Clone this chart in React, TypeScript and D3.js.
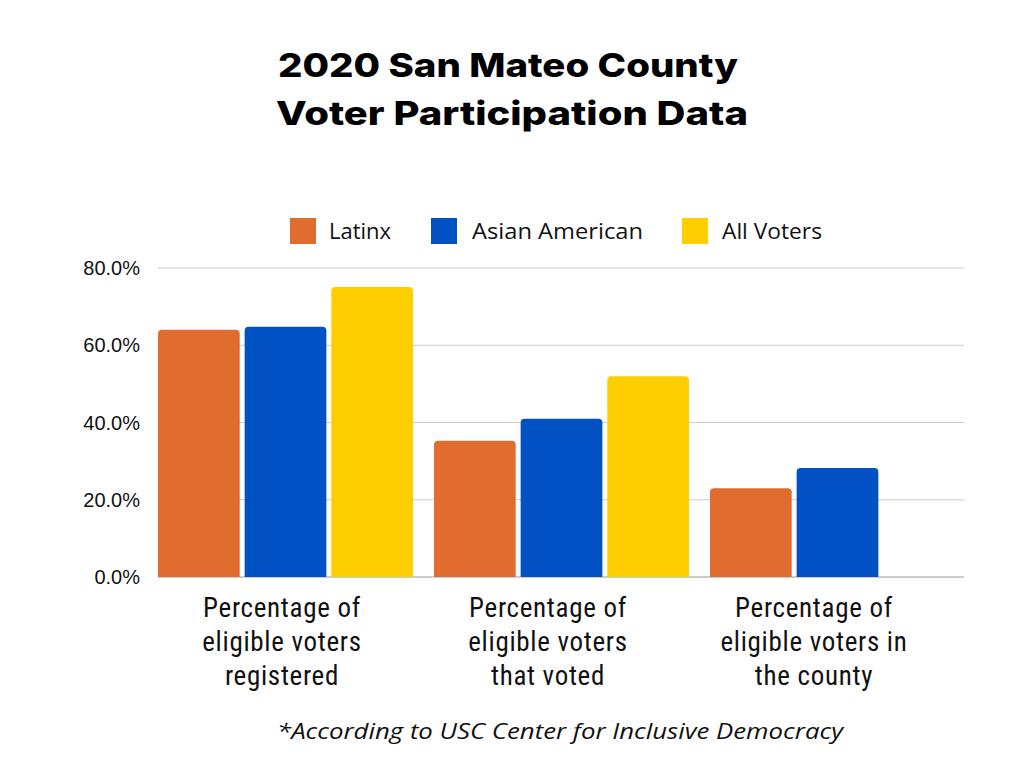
import React from "react";
import * as d3 from "d3";

const categories = [
  ["Percentage of", "eligible voters", "registered"],
  ["Percentage of", "eligible voters", "that voted"],
  ["Percentage of", "eligible voters in", "the county"],
];
const seriesNames = ["Latinx", "Asian American", "All Voters"];
const seriesColors = ["#E06C30", "#0052C4", "#FFCE00"];
const latinx = [64.0, 35.3, 23.0];
const asianAmerican = [64.8, 41.0, 28.2];
const allVoters: (number | null)[] = [75.1, 52.0, null];
const yTicks = [0, 20, 40, 60, 80];

const W = 1024;
const H = 768;

function topRoundedRect(x: number, y: number, w: number, h: number, r: number) {
  const rr = Math.min(r, h, w / 2);
  return `M${x},${y + h}V${y + rr}Q${x},${y} ${x + rr},${y}H${x + w - rr}Q${x + w},${y} ${x + w},${y + rr}V${y + h}Z`;
}

export default function App() {
  const y = d3.scaleLinear().domain([0, 80]).range([577, 268]);
  const idx = categories.map((_, i) => String(i));
  const x0 = d3.scaleBand().domain(idx).range([158, 965]).paddingInner(0.076).paddingOuter(0).align(0);
  const x1 = d3.scaleBand().domain(seriesNames).range([0, x0.bandwidth()]).paddingInner(0.057);
  const labelX = d3.scaleBand().domain(idx).range([149, 947]);
  const series = [latinx, asianAmerican, allVoters];
  const legendPos = [
    { sx: 290, tx: 329, len: 62 },
    { sx: 431, tx: 472, len: 171 },
    { sx: 682, tx: 722, len: 100 },
  ];

  return (
    <svg width={W} height={H} style={{ position: "absolute", left: 0, top: 0, background: "#fff" }}>
      <rect width={W} height={H} fill="#fff" />
      <g fontFamily="Inter, 'DejaVu Sans', sans-serif" fontWeight={800} fontSize={33} fill="#000" textAnchor="middle">
        <text x={508} y={77} textLength={460} lengthAdjust="spacingAndGlyphs">2020 San Mateo County</text>
        <text x={512} y={125} textLength={472} lengthAdjust="spacingAndGlyphs">Voter Participation Data</text>
      </g>
      {/* legend */}
      <g fontFamily="'Open Sans', Roboto, sans-serif" fontSize={21} fill="#111">
        {legendPos.map((p, i) => (
          <g key={i}>
            <rect x={p.sx} y={218} width={26} height={26} fill={seriesColors[i]} />
            <text x={p.tx} y={239} textLength={p.len} lengthAdjust="spacingAndGlyphs">{seriesNames[i]}</text>
          </g>
        ))}
      </g>
      {/* gridlines */}
      {yTicks.map((t) => (
        <g key={t}>
          <line x1={158} x2={964} y1={y(t)} y2={y(t)} stroke={t === 0 ? "#999" : "#ccc"} strokeWidth={1.2} />
          <text x={140} y={y(t) + 7} textAnchor="end" fontFamily="'Liberation Sans', Arial, sans-serif" fontSize={20} fill="#111">
            {t.toFixed(1)}%
          </text>
        </g>
      ))}
      {/* bars */}
      {series.map((vals, si) =>
        vals.map((v, ci) => {
          if (v == null) return null;
          const bx = (x0(String(ci)) as number) + (x1(seriesNames[si]) as number);
          const by = y(v);
          return (
            <path key={`${si}-${ci}`} d={topRoundedRect(bx, by, x1.bandwidth(), y(0) - by, 4)} fill={seriesColors[si]} />
          );
        })
      )}
      {/* category labels */}
      <g fontFamily="'Liberation Sans Narrow', 'Roboto Condensed', Roboto, sans-serif" fontSize={27} letterSpacing={0.7} fill="#111" textAnchor="middle">
        {categories.map((lines, ci) => (
          <text key={ci} x={(labelX(String(ci)) as number) + labelX.bandwidth() / 2} y={617}>
            {lines.map((l, li) => (
              <tspan key={li} x={(labelX(String(ci)) as number) + labelX.bandwidth() / 2} dy={li === 0 ? 0 : 34}>
                {l}
              </tspan>
            ))}
          </text>
        ))}
      </g>
      <text x={560} y={739} textAnchor="middle" fontFamily="'Open Sans', 'Noto Sans', sans-serif" fontStyle="italic" fontSize={22} fill="#111" textLength={566} lengthAdjust="spacingAndGlyphs">
        *According to USC Center for Inclusive Democracy
      </text>
    </svg>
  );
}
